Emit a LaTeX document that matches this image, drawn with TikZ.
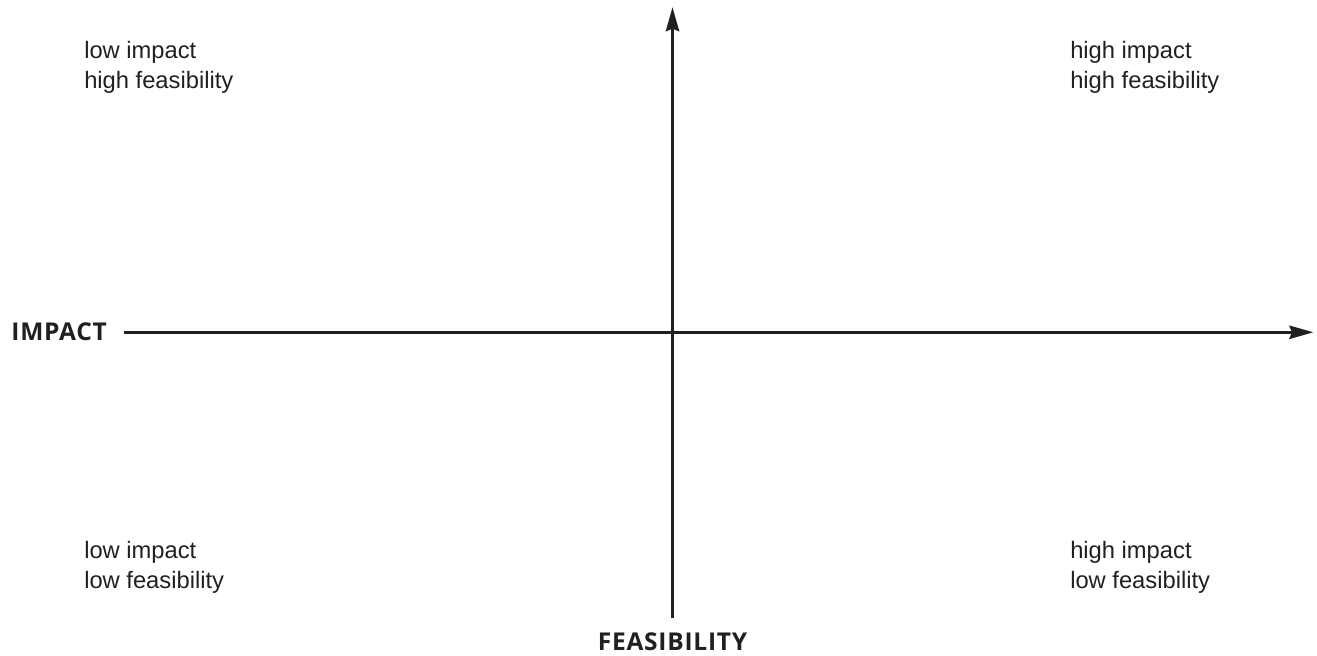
\documentclass[tikz,border=0pt]{standalone}
\usepackage{fontspec}
\setmainfont{Liberation Sans}
\newfontfamily\labfont{Open Sans}[LetterSpace=3]
\usetikzlibrary{arrows.meta}
\definecolor{ink}{HTML}{231F20}
\begin{document}
\begin{tikzpicture}[x=0.75pt,y=-0.75pt,
  quad/.style={inner sep=0pt,anchor=base west,text=ink,font=\fontsize{17.8pt}{22.5pt}\selectfont},
  axlab/.style={inner sep=0pt,text=ink,font=\labfont\bfseries\fontsize{18.4pt}{22pt}\selectfont},
  axis/.style={draw=ink,line width=2pt,-{Stealth[length=18pt,width=10pt,inset=2pt]}}]
\useasboundingbox (0,0) rectangle (1317,656);
% axes
\coordinate (vbot) at (672.5,617.7);
\coordinate (vtop) at (672.5,7.3);
\coordinate (hleft) at (124.3,332.3);
\coordinate (hright) at (1313.3,332.3);
\draw[axis] (vbot) -- (vtop);
\draw[axis] (hleft) -- (hright);
% axis labels
\node[axlab,anchor=base west] (impact) at (11.2,340.7) {IMPACT};
\node[axlab,anchor=base] (feas) at (672.5,650.7) {FEASIBILITY};
% quadrant labels
\node[quad] (tl1) at (84,58.3) {low impact};
\node[quad] (tl2) at (84,88.3) {high feasibility};
\node[quad] (tr1) at (1070,58.3) {high impact};
\node[quad] (tr2) at (1070,88.3) {high feasibility};
\node[quad] (bl1) at (84,558.3) {low impact};
\node[quad] (bl2) at (84,588.3) {low feasibility};
\node[quad] (br1) at (1070,558.3) {high impact};
\node[quad] (br2) at (1070,588.3) {low feasibility};
\end{tikzpicture}
\end{document}
